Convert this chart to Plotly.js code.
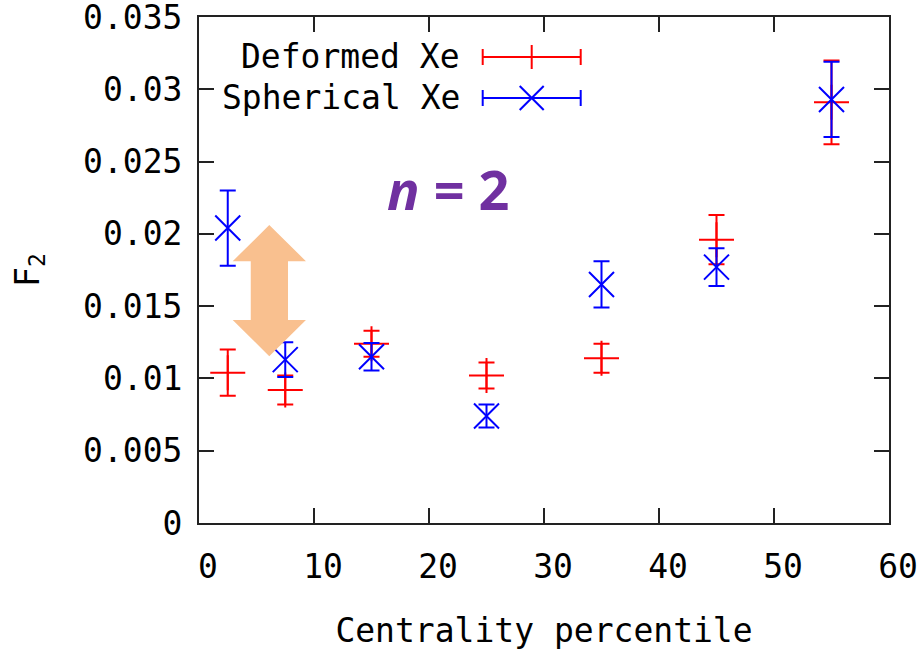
<!DOCTYPE html>
<html>
<head>
<meta charset="utf-8">
<script src="https://cdn.plot.ly/plotly-3.0.1.min.js"></script>
<style>html,body{margin:0;padding:0;background:#fff;}#plot{width:921px;height:650px;}</style>
</head>
<body>
<div id="plot"></div>
<script>
// ---- data ----
var centrality = [2.5, 7.5, 15, 25, 35, 45, 55];
var deformedF2 = [0.0104, 0.0092, 0.0124, 0.0102, 0.0114, 0.0196, 0.0291];
var deformedErr = [0.0016, 0.0010, 0.0009, 0.0009, 0.0010, 0.0017, 0.0029];
var sphericalF2 = [0.0204, 0.0113, 0.0115, 0.0074, 0.0165, 0.0177, 0.0293];
var sphericalErr = [0.0026, 0.0012, 0.00095, 0.0008, 0.0016, 0.0013, 0.0026];
var seriesNames = ["Deformed Xe", "Spherical Xe"];
var xTickVals = [0, 10, 20, 30, 40, 50, 60];
var yTickVals = [0, 0.005, 0.01, 0.015, 0.02, 0.025, 0.03, 0.035];
var yTickText = ["0", "0.005", "0.01", "0.015", "0.02", "0.025", "0.03", "0.035"];

var W = 921, H = 650;
var M = {l: 199, r: 32, t: 17, b: 127};
var pw = W - M.l - M.r, ph = H - M.t - M.b;
function px2x(px) { return (px - M.l) / pw; }
function px2y(py) { return (H - M.b - py) / ph; }

var mono = "DejaVu Sans Mono, Liberation Mono, monospace";
var red = "#ff0000", blue = "#0000ff";
var fs = 33;

var traces = [
  {
    x: centrality, y: deformedF2, type: "scatter", mode: "markers", name: seriesNames[0],
    showlegend: false,
    marker: {symbol: "cross-thin-open", size: 25, color: red, line: {color: red, width: 2}},
    error_y: {type: "data", array: deformedErr, visible: true, color: red, thickness: 2, width: 8}
  },
  {
    x: centrality, y: sphericalF2, type: "scatter", mode: "markers", name: seriesNames[1],
    showlegend: false,
    marker: {symbol: "x-thin-open", size: 25, color: blue, line: {color: blue, width: 2}},
    error_y: {type: "data", array: sphericalErr, visible: true, color: blue, thickness: 2, width: 8}
  }
];

// double arrow (data coords)
var arrowPath = "M 6.11 0.02061 L 9.30 0.01811 L 7.74 0.01811 L 7.74 0.01405 L 9.30 0.01405 " +
  "L 6.11 0.01153 L 2.93 0.01405 L 4.50 0.01405 L 4.50 0.01811 L 2.93 0.01811 Z";

var shapes = [
  {type: "path", xref: "x", yref: "y", path: arrowPath, fillcolor: "#f9c08f", line: {width: 0}, layer: "above"}
];

// manual gnuplot-style legend
var legRows = [{py: 57, color: red, sym: "plus"}, {py: 98, color: blue, sym: "x"}];
var lx0 = 482.7, lx1 = 580.7, lxc = 531.7, cap = 8;
var annotations = [];
legRows.forEach(function (r, i) {
  var c = r.color;
  function seg(x0, y0, x1, y1) {
    shapes.push({type: "line", xref: "paper", yref: "paper",
      x0: px2x(x0), y0: px2y(y0), x1: px2x(x1), y1: px2y(y1), line: {color: c, width: 2}});
  }
  seg(lx0, r.py, lx1, r.py);
  seg(lx0, r.py - cap, lx0, r.py + cap);
  seg(lx1, r.py - cap, lx1, r.py + cap);
  if (r.sym === "plus") {
    seg(lxc, r.py - 12, lxc, r.py + 12);
  } else {
    seg(lxc - 12, r.py - 12, lxc + 12, r.py + 12);
    seg(lxc - 12, r.py + 12, lxc + 12, r.py - 12);
  }
  annotations.push({xref: "paper", yref: "paper", x: px2x(462), y: px2y(r.py),
    xanchor: "right", yanchor: "middle", showarrow: false, text: seriesNames[i],
    font: {family: mono, size: fs, color: "#000"}});
});

annotations.push({xref: "paper", yref: "paper", x: px2x(448), y: px2y(189),
  xanchor: "center", yanchor: "middle", showarrow: false,
  text: "<b><i>n</i> = 2</b>", font: {family: "Open Sans, Lato, sans-serif", size: 54, color: "#7030a0"}});

var axisCommon = {
  showline: true, mirror: "ticks", linecolor: "#222", linewidth: 2,
  ticks: "inside", ticklen: 15, tickwidth: 2, tickcolor: "#222",
  showgrid: false, zeroline: false, ticklabeloverflow: "allow",
  tickfont: {family: mono, size: fs, color: "#000"}
};

var layout = {
  width: W, height: H,
  margin: M,
  paper_bgcolor: "#fff", plot_bgcolor: "#fff",
  showlegend: false,
  xaxis: Object.assign({}, axisCommon, {
    range: [0, 60], tickmode: "array", tickvals: xTickVals,
    ticklabelstandoff: 13, ticklabelshift: 9,
    title: {text: "Centrality percentile", font: {family: mono, size: fs, color: "#000"}, standoff: 36}
  }),
  yaxis: Object.assign({}, axisCommon, {
    range: [0, 0.035001], tickmode: "array", tickvals: yTickVals, ticktext: yTickText,
    ticklabelstandoff: 8,
    title: {text: "F<sub>2</sub>", font: {family: mono, size: fs, color: "#000"}, standoff: 34}
  }),
  shapes: shapes,
  annotations: annotations
};

Plotly.newPlot("plot", traces, layout, {displayModeBar: false, staticPlot: true});
</script>
</body>
</html>
